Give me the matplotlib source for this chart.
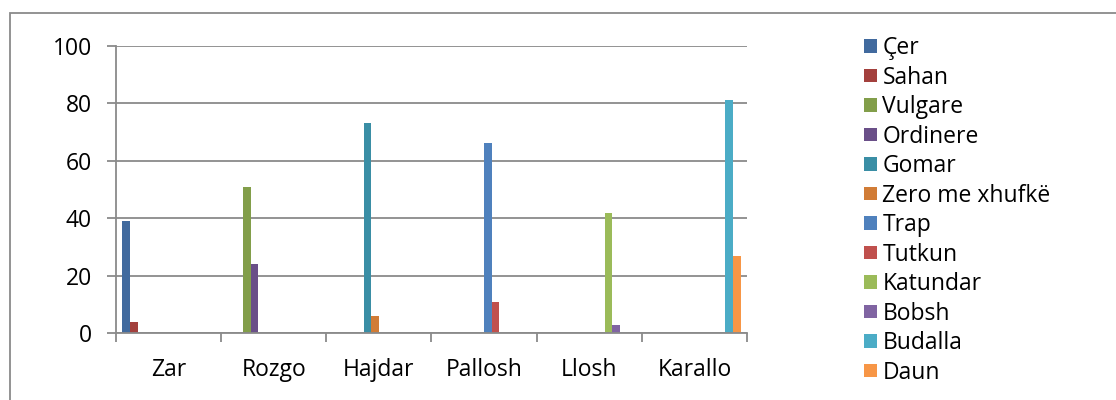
import numpy as np
import matplotlib
matplotlib.use("Agg")
import matplotlib.pyplot as plt
from matplotlib.patches import Rectangle

plt.rcParams['font.family'] = ['Open Sans', 'DejaVu Sans']

categories = ["Zar", "Rozgo", "Hajdar", "Pallosh", "Llosh", "Karallo"]
names = ["Çer", "Sahan", "Vulgare", "Ordinere", "Gomar", "Zero me xhufkë",
         "Trap", "Tutkun", "Katundar", "Bobsh", "Budalla", "Daun"]

cer      = [39, 0, 0, 0, 0, 0]
sahan    = [4, 0, 0, 0, 0, 0]
vulgare  = [0, 51, 0, 0, 0, 0]
ordinere = [0, 24, 0, 0, 0, 0]
gomar    = [0, 0, 73, 0, 0, 0]
zero     = [0, 0, 6, 0, 0, 0]
trap     = [0, 0, 0, 66, 0, 0]
tutkun   = [0, 0, 0, 11, 0, 0]
katundar = [0, 0, 0, 0, 42, 0]
bobsh    = [0, 0, 0, 0, 3, 0]
budalla  = [0, 0, 0, 0, 0, 81]
daun     = [0, 0, 0, 0, 0, 27]
series = [cer, sahan, vulgare, ordinere, gomar, zero,
          trap, tutkun, katundar, bobsh, budalla, daun]

colors = ["#416A9E", "#A3403D", "#829E4A", "#6A4F88", "#3A8EA5", "#D17C36",
          "#4F81BD", "#C0504D", "#9BBB59", "#8064A2", "#4BACC6", "#F79646"]

grid_c = "#8A8A8A"
fs = 16.5

fig = plt.figure(figsize=(11.16, 4.0), dpi=100)
ax = fig.add_axes([116/1116, 1 - 333.3/400, (747-116)/1116, (333.3-45.7)/400])

x = np.arange(len(categories))
group = 0.878
w = group / len(series)
for i, (vals, c, n) in enumerate(zip(series, colors, names)):
    ax.bar(x - group/2 + (i + 0.5)*w, vals, width=w, color=c, label=n, linewidth=0)

ax.set_xlim(-0.5, len(categories) - 0.5)
ax.set_ylim(0, 100)
ax.set_yticks(range(0, 101, 20))
ax.set_xticks(x)
ax.set_xticklabels(categories)
ax.set_xticks(np.arange(-0.5, len(categories)), minor=True)

ax.yaxis.grid(True, color=grid_c, linewidth=1.3)
ax.set_axisbelow(True)
for s in ["top", "right"]:
    ax.spines[s].set_visible(False)
for s in ["left", "bottom"]:
    ax.spines[s].set_color(grid_c)
    ax.spines[s].set_linewidth(1.3)

ax.tick_params(axis='y', length=6.5, width=1.3, color=grid_c, pad=11, labelsize=fs)
ax.tick_params(axis='x', which='major', length=0, pad=18, labelsize=fs)
ax.tick_params(axis='x', which='minor', length=6.5, width=1.3, color=grid_c)

leg = fig.legend(loc='upper left', bbox_to_anchor=(855/1116, 1 - 27/400),
                 frameon=False, fontsize=fs, handlelength=0.55, handleheight=0.55,
                 handletextpad=0.25, labelspacing=0.24, borderaxespad=0)

fig.patches.append(Rectangle((10/1116, -0.1), 1.2, (400-13)/400 + 0.1,
                             transform=fig.transFigure, fill=False,
                             edgecolor=grid_c, linewidth=1.3))

fig.savefig("out.png", dpi=100)
